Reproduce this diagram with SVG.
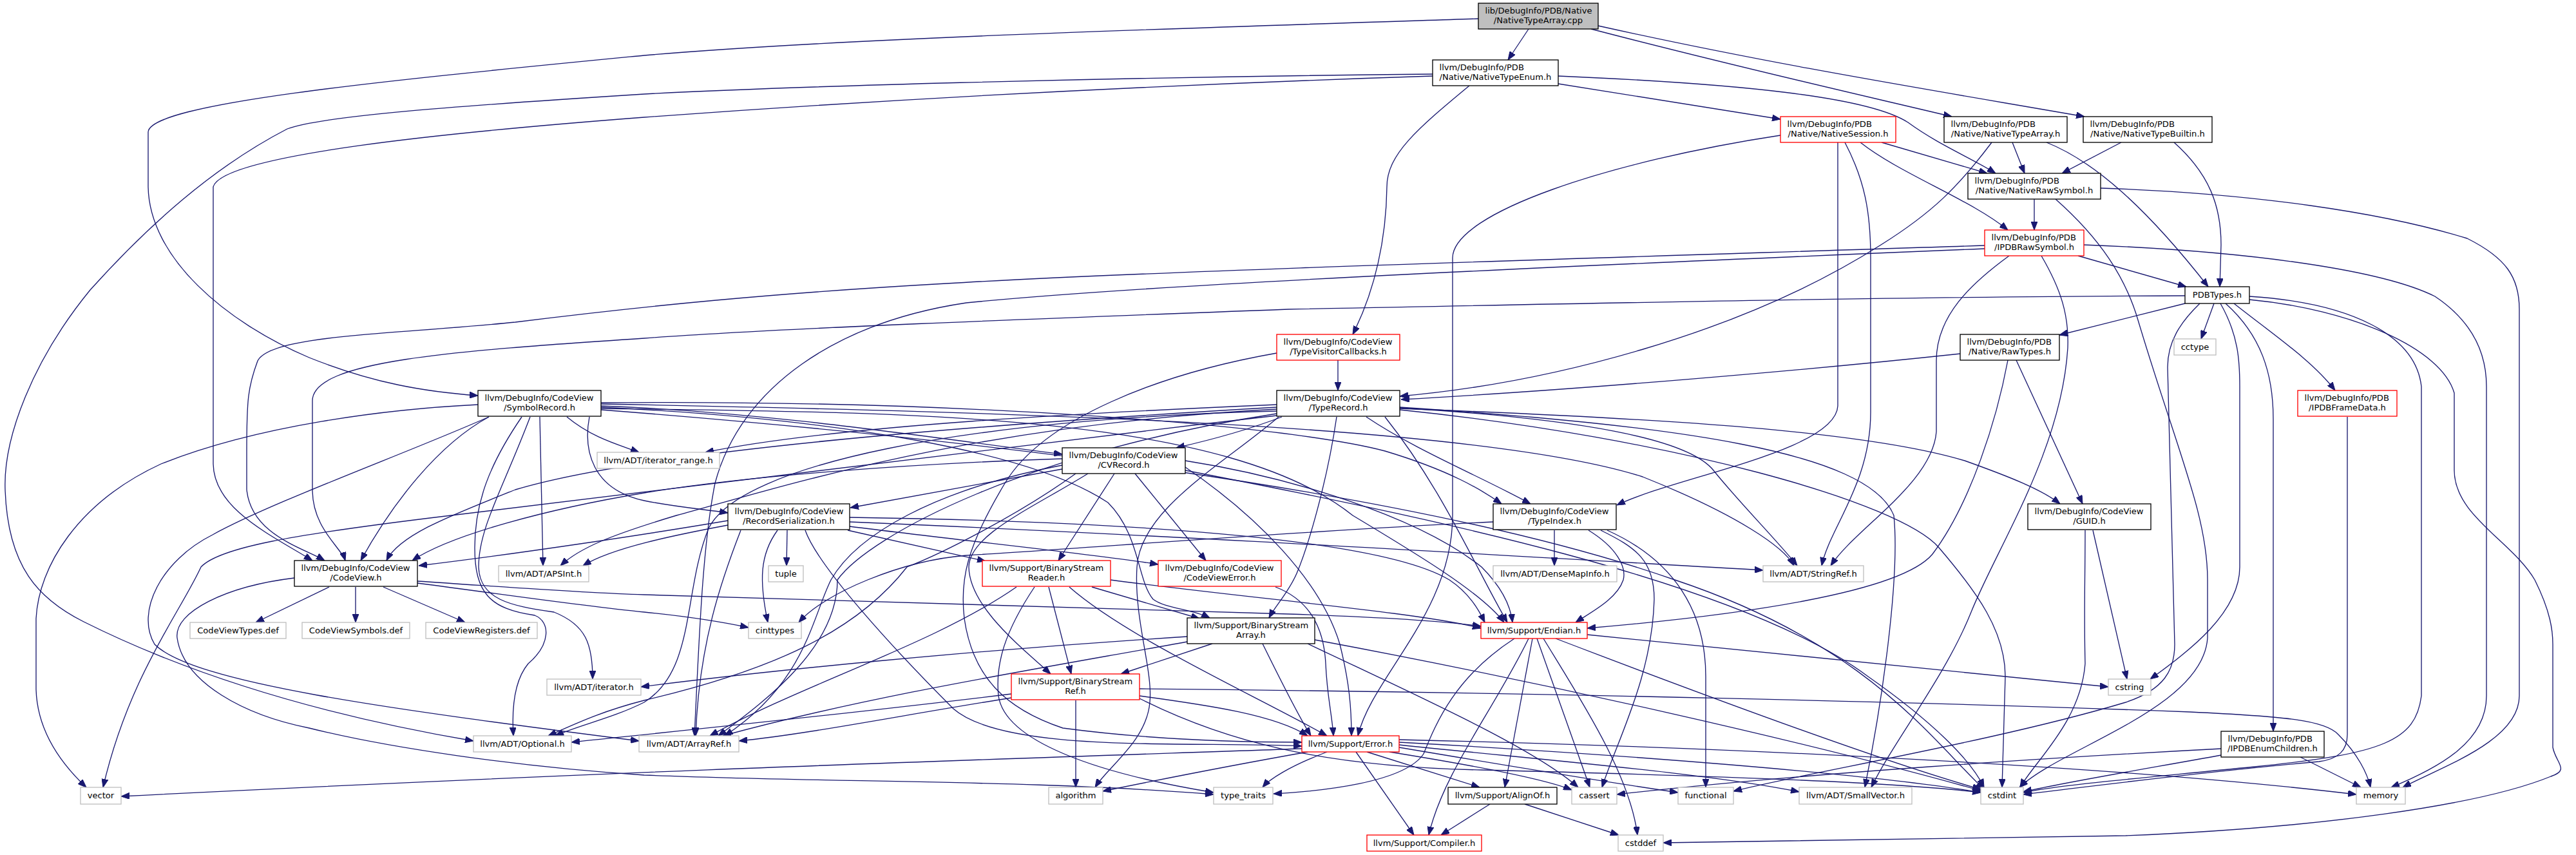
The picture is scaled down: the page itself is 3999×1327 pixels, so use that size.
<svg xmlns="http://www.w3.org/2000/svg" width="3999" height="1327" viewBox="0 0 3999 1327">
<defs>
<marker id="ah" viewBox="0 0 13 10" refX="13" refY="5" markerWidth="13" markerHeight="10" markerUnits="userSpaceOnUse" orient="auto">
<path d="M0,0 L13,5 L0,10 z" fill="#191970" stroke="#191970" stroke-width="1"/>
</marker>
</defs>
<style>
rect{fill:#ffffff;stroke:#000000;stroke-width:1.33}
.red rect{stroke:#ff0000}
.ext rect{stroke:#bfbfbf}
.root rect{fill:#bfbfbf}
text{font-family:"DejaVu Sans","Liberation Sans",sans-serif;font-size:13.1px;fill:#000000}
.c{text-anchor:middle}
#edges path{fill:none;stroke:#191970;stroke-width:1.33;marker-end:url(#ah)}
</style>
<rect x="0" y="0" width="3999" height="1327" style="fill:#ffffff;stroke:none"/>
<g id="edges">
<path d="M2373,45 L2341,93"/>
<path d="M2295,29 C1800,45 1300,60 1000,86 C600,125 232,160 230,205 L230,290 C232,400 350,500 480,555 C580,595 660,608 742,614"/>
<path d="M2470,45 C2700,105 2900,150 3030,181"/>
<path d="M2481,40 C2750,100 3000,140 3236,181"/>
<path d="M2419,130 L2764,185"/>
<path d="M2419,118 C2700,130 2900,150 2962,190 C3010,225 3060,245 3098,269"/>
<path d="M2281,133 C2200,200 2153,240 2153,290 C2152,370 2135,450 2100,519"/>
<path d="M2224,115 C1700,120 1200,135 1000,146 C700,165 500,180 446,200 C330,260 230,350 140,450 C50,560 5,680 8,760 C12,880 60,930 130,965 C300,1050 500,1110 735,1150"/>
<path d="M2224,118 C1700,135 1300,160 1000,182 C700,205 345,240 331,290 L331,720 C332,790 420,830 485,870"/>
<path d="M2764,210 C2500,250 2256,330 2255,400 L2255,800 C2255,950 2130,1050 2108,1142"/>
<path d="M2853,221 L2853,630 C2850,700 2600,740 2510,784"/>
<path d="M2864,221 C2895,280 2904,330 2904,400 L2904,640 C2904,750 2840,820 2828,878"/>
<path d="M2888,221 C2950,270 3060,310 3117,357"/>
<path d="M2921,221 L3085,269"/>
<path d="M3092,221 C3040,290 3000,330 2920,380 C2700,520 2400,595 2173,615"/>
<path d="M3124,221 L3143,269"/>
<path d="M3177,221 C3250,250 3330,320 3428,445"/>
<path d="M3293,221 L3201,269"/>
<path d="M3375,221 C3430,270 3448,320 3448,380 L3446,445"/>
<path d="M3158,309 L3158,357"/>
<path d="M3191,309 C3260,370 3300,430 3320,500 C3380,700 3427,800 3427,900 L3427,990 C3420,1100 3200,1160 3135,1222"/>
<path d="M3261,292 C3500,300 3700,330 3830,370 C3890,400 3911,430 3911,480 L3911,1080 C3911,1150 3790,1190 3730,1222"/>
<path d="M3226,397 L3394,445"/>
<path d="M3119,397 C3060,440 3006,490 3006,560 L3006,670 C3000,750 2880,820 2842,878"/>
<path d="M3169,397 C3200,450 3212,490 3210,540 C3200,700 3100,850 3060,950 C3020,1050 2940,1150 2905,1222"/>
<path d="M3081,381 C2500,400 1800,420 1469,440 C1200,455 1000,475 800,500 C600,520 420,520 400,560 C385,600 383,620 383,700 L383,760 C390,830 470,850 504,870"/>
<path d="M3081,386 C2500,410 1800,440 1500,470 C1300,500 1150,600 1110,750 C1090,850 1085,1000 1078,1142"/>
<path d="M3235,380 C3500,390 3700,420 3780,460 C3840,500 3860,550 3860,600 L3860,1080 C3860,1150 3790,1190 3712,1222"/>
<path d="M3392,459 C3000,460 2500,470 2000,480 C1600,495 1200,510 1000,525 C700,545 485,560 485,622 L485,760 C485,820 530,850 536,870"/>
<path d="M3392,471 L3197,520"/>
<path d="M3415,471 C3385,500 3365,530 3365,570 L3376,1000 C3376,1040 3360,1070 3300,1090 C3100,1150 2800,1200 2691,1228"/>
<path d="M3437,471 L3417,526"/>
<path d="M3447,471 C3475,520 3477,560 3477,600 L3477,880 C3477,950 3400,1010 3338,1054"/>
<path d="M3455,471 C3510,520 3529,580 3529,650 L3529,1135"/>
<path d="M3468,471 C3530,520 3590,560 3625,606"/>
<path d="M3492,460 C3650,470 3750,520 3759,600 L3759,1080 C3750,1150 3700,1170 3500,1190 C3300,1210 3200,1218 3141,1230"/>
<path d="M3492,465 C3650,480 3790,540 3810,610 L3810,730 C3810,800 3900,840 3935,900 C3960,950 3963,980 3963,1000 L3963,1160 C3968,1185 3990,1195 3960,1205 C3850,1250 3600,1285 3300,1297 C3000,1303 2700,1307 2582,1308"/>
<path d="M3130,559 L3233,782"/>
<path d="M3043,549 C2800,575 2450,605 2175,620"/>
<path d="M3117,559 C3100,650 3060,780 3000,860 C2950,920 2700,955 2464,975"/>
<path d="M2077,559 L2077,606"/>
<path d="M1982,548 C1800,580 1620,650 1560,750 C1500,850 1490,900 1497,960 C1510,1050 1560,1100 1650,1130 C1800,1150 1950,1152 2021,1152"/>
<path d="M1990,647 C1930,670 1870,685 1826,695"/>
<path d="M1982,628 C1700,640 1300,660 1095,702"/>
<path d="M1982,632 C1500,660 1000,700 800,760 C700,800 620,830 600,870"/>
<path d="M1982,635 C1500,660 1200,760 1050,800 C950,830 900,850 870,878"/>
<path d="M1982,638 C1500,650 1150,720 1100,820 C1060,920 1080,1040 1000,1090 C950,1115 900,1125 862,1142"/>
<path d="M1982,642 C1600,700 1350,830 1300,900 C1300,1000 1200,1080 1115,1142"/>
<path d="M1982,645 C1500,700 1000,760 700,800 C450,830 340,850 312,880 C280,950 200,1050 160,1222"/>
<path d="M2121,647 C2200,700 2300,740 2376,782"/>
<path d="M2075,647 C2060,750 2030,850 2013,890 C2000,920 1980,940 1970,959"/>
<path d="M1985,647 C1900,720 1770,790 1765,880 C1760,960 1790,1040 1785,1090 C1780,1150 1720,1190 1700,1222"/>
<path d="M2173,632 C2600,660 2900,700 2940,800 C2950,900 2920,1100 2895,1222"/>
<path d="M2173,633 C2450,650 2620,680 2660,730 C2700,780 2760,840 2790,878"/>
<path d="M2150,647 C2240,760 2290,880 2340,966"/>
<path d="M2173,634 C2600,650 2900,670 3050,715 C3120,740 3170,760 3198,782"/>
<path d="M2173,636 C2600,680 2950,780 3010,850 C3070,920 3113,980 3113,1050 L3108,1222"/>
<path d="M742,628 C600,635 400,660 250,720 C120,780 60,880 56,960 L56,1070 C58,1140 100,1190 134,1222"/>
<path d="M838,647 L843,878"/>
<path d="M880,647 C920,680 960,690 992,702"/>
<path d="M759,647 C680,690 610,780 560,870"/>
<path d="M810,647 C760,720 737,780 737,850 C737,920 760,945 830,955 C855,965 855,1000 820,1030 C795,1060 795,1110 797,1142"/>
<path d="M823,647 C780,760 743,820 743,880 C745,930 790,940 860,950 C910,970 920,1000 920,1054"/>
<path d="M759,647 C640,700 420,780 330,830 C250,870 210,950 240,1000 C300,1060 600,1100 992,1150"/>
<path d="M933,630 C1200,640 1450,680 1649,705"/>
<path d="M915,647 C905,700 920,760 1000,777 C1050,787 1090,790 1130,796"/>
<path d="M933,625 C1500,620 2000,660 2150,700 C2250,730 2300,760 2331,782"/>
<path d="M933,632 C1300,650 1600,700 1720,780 C1770,830 1765,900 1790,930 C1810,945 1850,945 1878,959"/>
<path d="M933,634 C1400,640 1900,640 2100,800 C2200,860 2300,920 2335,966"/>
<path d="M933,627 C1600,640 2300,660 2550,740 C2700,800 2770,850 2785,878"/>
<path d="M933,636 C1500,680 2200,760 2600,900 C2900,1000 3000,1150 3080,1225"/>
<path d="M1649,728 L1320,788"/>
<path d="M1730,735 L1643,870"/>
<path d="M1762,735 L1872,870"/>
<path d="M1649,712 C1400,720 1150,740 1000,765 C850,790 700,830 640,870"/>
<path d="M1670,735 C1580,800 1460,860 1408,880 C1330,980 1200,1040 1000,1087 C930,1105 890,1125 851,1142"/>
<path d="M1649,722 C1450,760 1330,830 1290,900 C1260,960 1250,1060 1125,1142"/>
<path d="M1689,735 C1600,790 1505,830 1504,880 C1505,940 1580,1000 1631,1046"/>
<path d="M1840,715 C2000,740 2200,800 2300,880 C2330,910 2345,940 2348,966"/>
<path d="M1840,725 C1950,800 2050,900 2080,1000 C2095,1060 2098,1100 2098,1142"/>
<path d="M1840,730 C2200,800 2700,900 2900,1050 C3000,1120 3060,1180 3080,1222"/>
<path d="M1130,815 C1050,830 950,850 905,878"/>
<path d="M1150,823 C1120,900 1085,1000 1080,1142"/>
<path d="M1319,810 C1800,830 2300,860 2737,885"/>
<path d="M1130,808 C1000,830 800,860 650,878"/>
<path d="M1319,817 C1500,840 1700,860 1798,876"/>
<path d="M1316,823 L1530,871"/>
<path d="M1319,803 C1800,810 2150,840 2250,900 C2280,920 2295,945 2305,966"/>
<path d="M1250,823 C1270,880 1390,1010 1480,1100 C1560,1170 1850,1150 2021,1158"/>
<path d="M1207,823 C1180,860 1178,900 1192,966"/>
<path d="M1222,823 L1221,878"/>
<path d="M2413,823 L2413,878"/>
<path d="M2466,823 C2510,850 2525,880 2520,900 C2510,930 2470,950 2446,966"/>
<path d="M2485,823 C2540,850 2568,870 2568,930 C2565,1050 2510,1150 2487,1222"/>
<path d="M2495,823 C2600,870 2648,950 2648,1050 L2648,1222"/>
<path d="M2318,810 C2000,825 1700,850 1500,862 C1400,870 1280,920 1240,966"/>
<path d="M3237,823 C3237,900 3235,950 3237,1030 C3230,1120 3160,1180 3136,1222"/>
<path d="M3249,823 L3302,1054"/>
<path d="M511,911 L397,966"/>
<path d="M552,911 L552,966"/>
<path d="M595,911 L722,966"/>
<path d="M457,897 C350,910 270,950 275,990 C285,1060 380,1110 480,1130 C600,1160 800,1190 1000,1203 C1300,1215 1600,1210 1884,1233"/>
<path d="M648,905 C800,925 900,940 1000,950 C1060,956 1120,965 1162,974"/>
<path d="M648,902 C800,912 900,920 1000,923 C1400,935 1800,948 2000,953 C2150,958 2250,965 2299,972"/>
<path d="M1578,911 C1450,1000 1250,1060 1102,1142"/>
<path d="M1606,911 C1560,980 1545,1030 1550,1080 C1560,1150 1700,1200 1884,1230"/>
<path d="M1628,911 L1663,1046"/>
<path d="M1660,911 C1750,990 1950,1080 2060,1142"/>
<path d="M1695,911 L1862,960"/>
<path d="M1724,900 C1950,930 2200,950 2299,975"/>
<path d="M1980,911 C2030,930 2055,970 2058,1030 C2060,1080 2068,1110 2070,1142"/>
<path d="M1843,988 C1500,1010 1200,1040 995,1066"/>
<path d="M1843,996 C1600,1040 1350,1080 1122,1142"/>
<path d="M1882,999 L1740,1046"/>
<path d="M1960,999 C1990,1060 2015,1110 2035,1142"/>
<path d="M2030,999 C2200,1080 2380,1160 2450,1222"/>
<path d="M2041,993 C2400,1060 2800,1150 3078,1228"/>
<path d="M2351,991 C2260,1050 2230,1120 2210,1170 C2180,1215 2050,1228 1977,1232"/>
<path d="M2373,991 C2320,1100 2240,1200 2218,1296"/>
<path d="M2379,991 L2336,1222"/>
<path d="M2386,991 L2468,1222"/>
<path d="M2396,991 C2450,1080 2530,1200 2542,1296"/>
<path d="M2415,991 C2700,1100 2950,1190 3075,1225"/>
<path d="M2464,985 C2800,1020 3100,1050 3273,1066"/>
<path d="M1570,1077 C1300,1110 1000,1140 887,1152"/>
<path d="M1570,1083 C1400,1110 1250,1140 1147,1150"/>
<path d="M1670,1087 L1670,1222"/>
<path d="M1769,1080 C1880,1095 1980,1110 2030,1142"/>
<path d="M1769,1084 C1900,1150 2050,1190 2300,1195 C2700,1205 2950,1215 3075,1230"/>
<path d="M1769,1069 C2400,1075 3000,1090 3400,1105 C3550,1112 3610,1118 3630,1140 C3660,1170 3675,1200 3680,1222"/>
<path d="M3448,1162 C3200,1175 2800,1200 2510,1233"/>
<path d="M3448,1172 C3350,1190 3200,1215 3141,1229"/>
<path d="M3571,1175 L3665,1222"/>
<path d="M2021,1162 C1500,1180 1000,1195 188,1236"/>
<path d="M2030,1167 C1900,1190 1800,1210 1712,1228"/>
<path d="M2060,1167 C2000,1190 1970,1210 1960,1222"/>
<path d="M2122,1167 L2297,1222"/>
<path d="M2105,1167 L2195,1296"/>
<path d="M2157,1167 C2300,1190 2400,1210 2440,1226"/>
<path d="M2172,1160 C2350,1190 2500,1215 2605,1230"/>
<path d="M2172,1156 C2400,1180 2650,1200 2793,1229"/>
<path d="M2172,1152 C2500,1170 2900,1200 3075,1230"/>
<path d="M2172,1148 C2700,1160 3300,1190 3658,1233"/>
<path d="M2313,1248 L2237,1296"/>
<path d="M2367,1248 L2513,1296"/>
<path d="M3644,647 L3644,1140 C3644,1165 3630,1178 3600,1182 C3400,1200 3250,1220 3141,1233"/>
</g>
<g id="n_cpp" class="root"><rect x="2295" y="5" width="186" height="40"/><text x="2305.5" y="21">lib/DebugInfo/PDB/Native</text><text class="c" x="2388" y="36">/NativeTypeArray.cpp</text></g>
<g id="n_enum"><rect x="2224" y="93" width="195" height="40"/><text x="2234.5" y="109">llvm/DebugInfo/PDB</text><text class="c" x="2321.5" y="124">/Native/NativeTypeEnum.h</text></g>
<g id="n_session" class="red"><rect x="2764" y="181" width="179" height="40"/><text x="2774.5" y="197">llvm/DebugInfo/PDB</text><text class="c" x="2853.5" y="212">/Native/NativeSession.h</text></g>
<g id="n_tarr"><rect x="3018" y="181" width="191" height="40"/><text x="3028.5" y="197">llvm/DebugInfo/PDB</text><text class="c" x="3113.5" y="212">/Native/NativeTypeArray.h</text></g>
<g id="n_tbuilt"><rect x="3234" y="181" width="200" height="40"/><text x="3244.5" y="197">llvm/DebugInfo/PDB</text><text class="c" x="3334" y="212">/Native/NativeTypeBuiltin.h</text></g>
<g id="n_nraw"><rect x="3055" y="269" width="206" height="40"/><text x="3065.5" y="285">llvm/DebugInfo/PDB</text><text class="c" x="3158" y="300">/Native/NativeRawSymbol.h</text></g>
<g id="n_iraw" class="red"><rect x="3081" y="357" width="154" height="40"/><text x="3091.5" y="373">llvm/DebugInfo/PDB</text><text class="c" x="3158" y="388">/IPDBRawSymbol.h</text></g>
<g id="n_pdbt"><rect x="3392" y="445" width="100" height="26"/><text class="c" x="3442" y="462">PDBTypes.h</text></g>
<g id="n_tvc" class="red"><rect x="1982" y="519" width="191" height="40"/><text x="1992.5" y="535">llvm/DebugInfo/CodeView</text><text class="c" x="2077.5" y="550">/TypeVisitorCallbacks.h</text></g>
<g id="n_rawt"><rect x="3043" y="519" width="154" height="40"/><text x="3053.5" y="535">llvm/DebugInfo/PDB</text><text class="c" x="3120" y="550">/Native/RawTypes.h</text></g>
<g id="n_cctype" class="ext"><rect x="3375" y="526" width="65" height="25"/><text class="c" x="3407.5" y="543">cctype</text></g>
<g id="n_symrec"><rect x="742" y="606" width="191" height="40"/><text x="752.5" y="622">llvm/DebugInfo/CodeView</text><text class="c" x="837.5" y="637">/SymbolRecord.h</text></g>
<g id="n_typerec"><rect x="1982" y="606" width="191" height="40"/><text x="1992.5" y="622">llvm/DebugInfo/CodeView</text><text class="c" x="2077.5" y="637">/TypeRecord.h</text></g>
<g id="n_framed" class="red"><rect x="3567" y="606" width="154" height="40"/><text x="3577.5" y="622">llvm/DebugInfo/PDB</text><text class="c" x="3644" y="637">/IPDBFrameData.h</text></g>
<g id="n_itrange" class="ext"><rect x="927" y="702" width="190" height="25"/><text class="c" x="1022" y="719">llvm/ADT/iterator_range.h</text></g>
<g id="n_cvrec"><rect x="1649" y="695" width="191" height="40"/><text x="1659.5" y="711">llvm/DebugInfo/CodeView</text><text class="c" x="1744.5" y="726">/CVRecord.h</text></g>
<g id="n_recser"><rect x="1130" y="782" width="189" height="40"/><text x="1140.5" y="798">llvm/DebugInfo/CodeView</text><text class="c" x="1224.5" y="813">/RecordSerialization.h</text></g>
<g id="n_tindex"><rect x="2318" y="782" width="191" height="40"/><text x="2328.5" y="798">llvm/DebugInfo/CodeView</text><text class="c" x="2413.5" y="813">/TypeIndex.h</text></g>
<g id="n_guid"><rect x="3148" y="782" width="191" height="40"/><text x="3158.5" y="798">llvm/DebugInfo/CodeView</text><text class="c" x="3243.5" y="813">/GUID.h</text></g>
<g id="n_codeview"><rect x="457" y="870" width="191" height="40"/><text x="467.5" y="886">llvm/DebugInfo/CodeView</text><text class="c" x="552.5" y="901">/CodeView.h</text></g>
<g id="n_apsint" class="ext"><rect x="774" y="878" width="140" height="25"/><text class="c" x="844" y="895">llvm/ADT/APSInt.h</text></g>
<g id="n_tuple" class="ext"><rect x="1193" y="878" width="54" height="25"/><text class="c" x="1220" y="895">tuple</text></g>
<g id="n_bsreader" class="red"><rect x="1525" y="870" width="199" height="40"/><text x="1535.5" y="886">llvm/Support/BinaryStream</text><text class="c" x="1624.5" y="901">Reader.h</text></g>
<g id="n_cverr" class="red"><rect x="1798" y="870" width="191" height="40"/><text x="1808.5" y="886">llvm/DebugInfo/CodeView</text><text class="c" x="1893.5" y="901">/CodeViewError.h</text></g>
<g id="n_densemap" class="ext"><rect x="2318" y="878" width="192" height="25"/><text class="c" x="2414" y="895">llvm/ADT/DenseMapInfo.h</text></g>
<g id="n_stringref" class="ext"><rect x="2737" y="878" width="156" height="25"/><text class="c" x="2815" y="895">llvm/ADT/StringRef.h</text></g>
<g id="n_cvtypes" class="ext"><rect x="295" y="966" width="149" height="25"/><text class="c" x="369.5" y="983">CodeViewTypes.def</text></g>
<g id="n_cvsyms" class="ext"><rect x="469" y="966" width="167" height="25"/><text class="c" x="552.5" y="983">CodeViewSymbols.def</text></g>
<g id="n_cvregs" class="ext"><rect x="661" y="966" width="173" height="25"/><text class="c" x="747.5" y="983">CodeViewRegisters.def</text></g>
<g id="n_cinttypes" class="ext"><rect x="1162" y="966" width="82" height="25"/><text class="c" x="1203" y="983">cinttypes</text></g>
<g id="n_bsarray"><rect x="1843" y="959" width="198" height="40"/><text x="1853.5" y="975">llvm/Support/BinaryStream</text><text class="c" x="1942" y="990">Array.h</text></g>
<g id="n_endian" class="red"><rect x="2299" y="966" width="165" height="25"/><text class="c" x="2381.5" y="983">llvm/Support/Endian.h</text></g>
<g id="n_iterator" class="ext"><rect x="849" y="1054" width="146" height="25"/><text class="c" x="922" y="1071">llvm/ADT/iterator.h</text></g>
<g id="n_bsref" class="red"><rect x="1570" y="1046" width="199" height="40"/><text x="1580.5" y="1062">llvm/Support/BinaryStream</text><text class="c" x="1669.5" y="1077">Ref.h</text></g>
<g id="n_cstring" class="ext"><rect x="3273" y="1054" width="66" height="25"/><text class="c" x="3306" y="1071">cstring</text></g>
<g id="n_enumch"><rect x="3448" y="1135" width="160" height="40"/><text x="3458.5" y="1151">llvm/DebugInfo/PDB</text><text class="c" x="3528" y="1166">/IPDBEnumChildren.h</text></g>
<g id="n_optional" class="ext"><rect x="735" y="1142" width="152" height="25"/><text class="c" x="811" y="1159">llvm/ADT/Optional.h</text></g>
<g id="n_arrayref" class="ext"><rect x="992" y="1142" width="155" height="25"/><text class="c" x="1069.5" y="1159">llvm/ADT/ArrayRef.h</text></g>
<g id="n_error" class="red"><rect x="2021" y="1142" width="151" height="25"/><text class="c" x="2096.5" y="1159">llvm/Support/Error.h</text></g>
<g id="n_vector" class="ext"><rect x="125" y="1222" width="63" height="26"/><text class="c" x="156.5" y="1239">vector</text></g>
<g id="n_algorithm" class="ext"><rect x="1628" y="1222" width="84" height="26"/><text class="c" x="1670" y="1239">algorithm</text></g>
<g id="n_type_traits" class="ext"><rect x="1884" y="1222" width="92" height="26"/><text class="c" x="1930" y="1239">type_traits</text></g>
<g id="n_alignof"><rect x="2248" y="1222" width="169" height="26"/><text class="c" x="2332.5" y="1239">llvm/Support/AlignOf.h</text></g>
<g id="n_cassert" class="ext"><rect x="2440" y="1222" width="70" height="26"/><text class="c" x="2475" y="1239">cassert</text></g>
<g id="n_functional" class="ext"><rect x="2605" y="1222" width="86" height="26"/><text class="c" x="2648" y="1239">functional</text></g>
<g id="n_smallvec" class="ext"><rect x="2793" y="1222" width="175" height="26"/><text class="c" x="2880.5" y="1239">llvm/ADT/SmallVector.h</text></g>
<g id="n_cstdint" class="ext"><rect x="3075" y="1222" width="66" height="26"/><text class="c" x="3108" y="1239">cstdint</text></g>
<g id="n_memory" class="ext"><rect x="3658" y="1222" width="76" height="26"/><text class="c" x="3696" y="1239">memory</text></g>
<g id="n_compiler" class="red"><rect x="2122" y="1296" width="178" height="25"/><text class="c" x="2211" y="1313">llvm/Support/Compiler.h</text></g>
<g id="n_cstddef" class="ext"><rect x="2512" y="1296" width="70" height="25"/><text class="c" x="2547" y="1313">cstddef</text></g>
</svg>
